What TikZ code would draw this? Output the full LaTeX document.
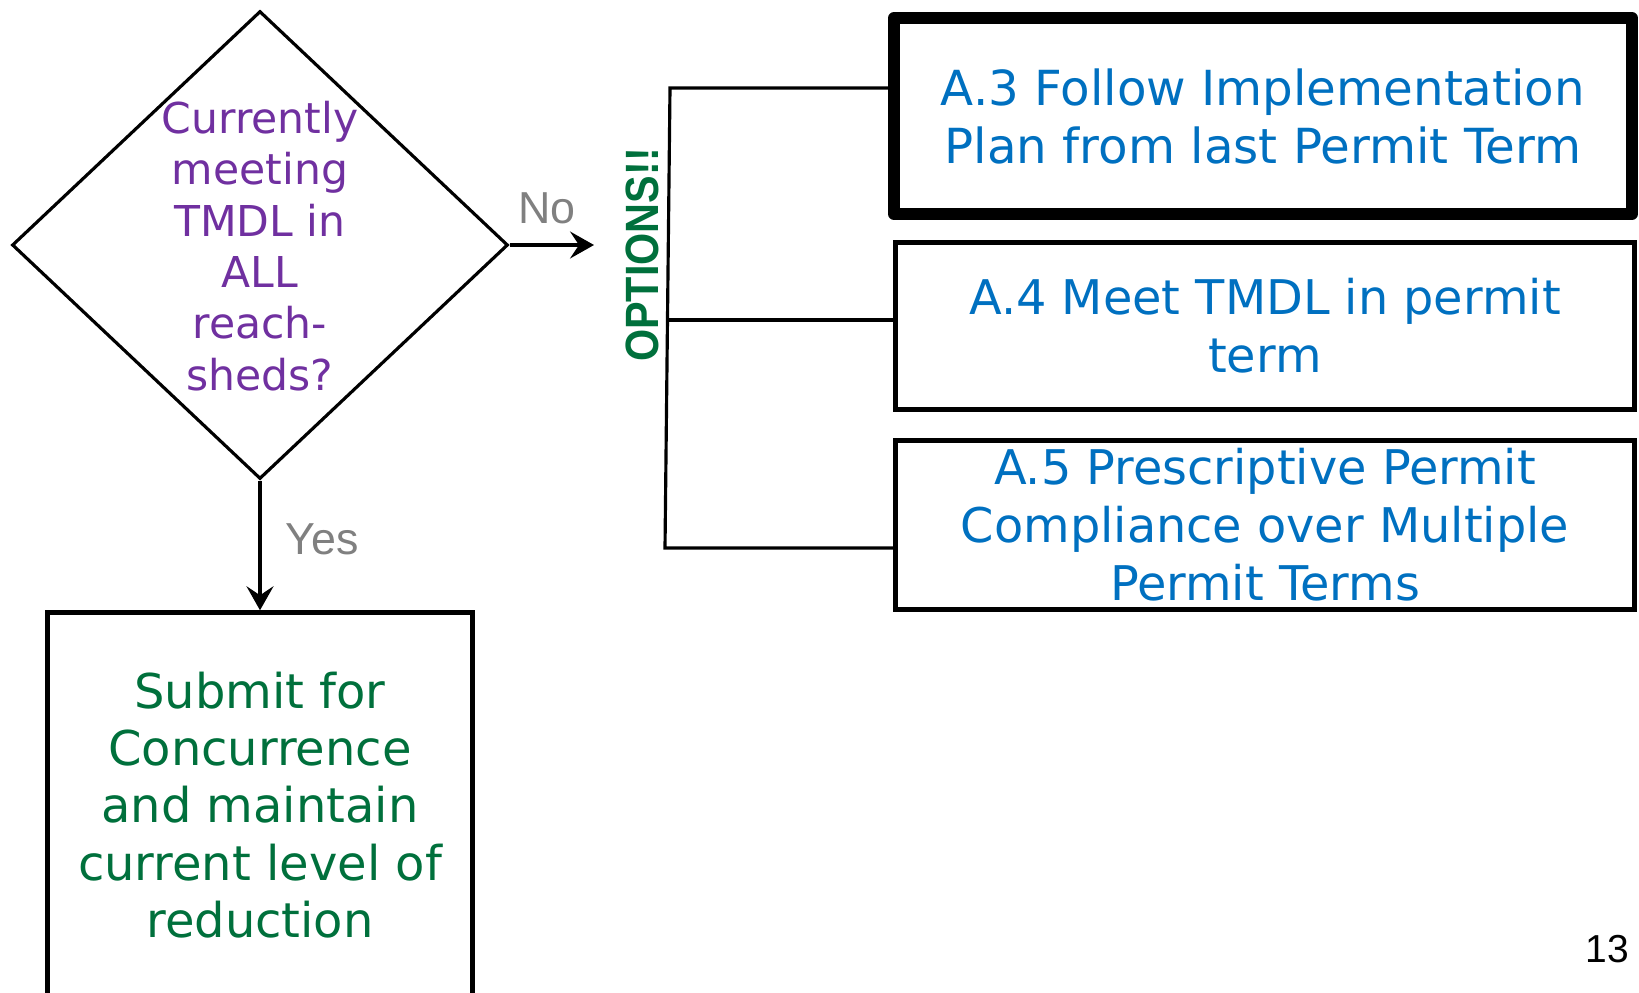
\documentclass[tikz,border=0pt]{standalone}
\usepackage{fontspec}
\usepackage{graphicx}
\setmainfont{DejaVu Sans}
\newfontfamily\arialfont{Liberation Sans}
\usetikzlibrary{shapes.geometric,arrows.meta}

\definecolor{qpurple}{HTML}{7030A0}
\definecolor{optblue}{HTML}{0070C0}
\definecolor{okgreen}{HTML}{00703C}
\definecolor{lblgray}{HTML}{808080}

\tikzset{
	decision/.style={draw, diamond, line width=1.8pt, minimum width=9.92cm, minimum height=9.36cm, inner sep=0pt},
	optbox/.style={draw, line width=2.8pt, minimum width=14.78cm, inner sep=0pt, align=center, text=optblue, font=\fontsize{27.2}{33}\selectfont},
	link/.style={line width=1.8pt},
	flow/.style={line width=1.8pt, -{Stealth[length=0.48cm,width=0.54cm,inset=0.18cm]}},
	lbl/.style={text=lblgray, font=\arialfont\fontsize{25.5}{30}\selectfont}
}

\begin{document}
\begin{tikzpicture}[x=0.02cm, y=-0.02cm]
	\useasboundingbox (0,0) rectangle (1639,992);
	\clip (0,0) rectangle (1639,992);
	% question
	\node[decision] (q) at (260,245) {};
	\node[text=qpurple, align=center, font=\fontsize{24.2}{29.2}\selectfont] (qtext) at (260,246) {Currently\\meeting\\TMDL in\\ALL\\reach-\\sheds?};
	% options
	\node[optbox, line width=6.8pt, line join=round, minimum width=14.76cm, minimum height=3.92cm, font=\fontsize{27.5}{33}\selectfont] (a3) at (1263,116) {A.3 Follow Implementation\\Plan from last Permit Term};
	\node[optbox, minimum height=3.34cm] (a4) at (1265,326) {A.4 Meet TMDL in permit\\term};
	\node[optbox, minimum height=3.37cm] (a5) at (1265,525) {A.5 Prescriptive Permit\\Compliance over Multiple\\Permit Terms};
	\node[rotate=90, text=okgreen, font=\arialfont\bfseries\fontsize{26.6}{30}\selectfont] (opts) at (642,255) {\scalebox{0.885}[1]{OPTIONS!!}};
	% spine to the options
	\coordinate (sptop) at (670,88);
	\coordinate (spmid) at (667.5,320);
	\coordinate (spbot) at (665,548);
	\draw[link] (sptop -| a3.west) -- (sptop) -- (spbot) -- (spbot -| a5.west);
	\draw[link] (spmid) -- (spmid -| a4.west);
	% no
	\coordinate (noend) at (594,245);
	\draw[flow] (q.east) -- (noend);
	\node[lbl] (no) at (547,208) {No};
	% yes
	\node[draw, line width=2.6pt, minimum width=8.5cm, minimum height=7.7cm, align=center, text=okgreen, font=\fontsize{27.3}{32.7}\selectfont] (submit) at (260,805) {Submit for\\Concurrence\\and maintain\\current level of\\reduction};
	\draw[flow] (q.south) -- (submit.north);
	\node[lbl] (yes) at (322,539) {Yes};
	\node[font=\arialfont\fontsize{22.2}{26}\selectfont] (page) at (1607.5,949) {13};
\end{tikzpicture}
\end{document}
